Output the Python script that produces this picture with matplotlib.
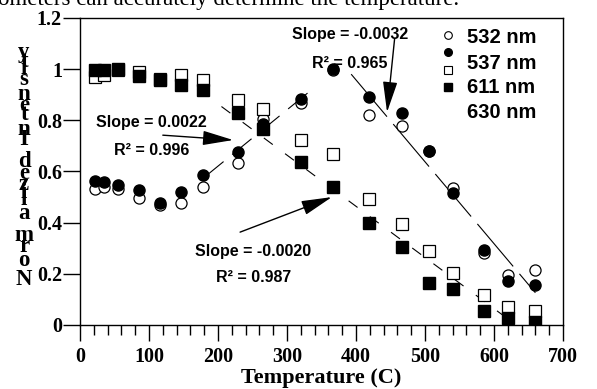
import numpy as np
import matplotlib.pyplot as plt
from matplotlib import font_manager, ft2font
from matplotlib.ticker import MultipleLocator, FuncFormatter

plt.rcParams['font.family'] = 'Liberation Serif'
plt.rcParams['font.weight'] = 'bold'
plt.rcParams['lines.scale_dashes'] = False

# temperatures (C) and normalized intensities
temps = [22, 35, 55, 86, 116, 146, 178, 229, 265, 321, 367, 419, 467, 506, 541, 586, 620, 659]
n532 = [0.530, 0.540, 0.530, 0.495, 0.470, 0.475, 0.540, 0.632, 0.805, 0.866,
        0.995, 0.820, 0.777, 0.680, 0.534, 0.280, 0.195, 0.215]
n537 = [0.564, 0.560, 0.549, 0.526, 0.475, 0.520, 0.586, 0.676, 0.785, 0.885,
        0.999, 0.892, 0.828, 0.681, 0.517, 0.293, 0.173, 0.156]
n611 = [0.970, 0.977, 0.995, 0.990, 0.963, 0.977, 0.957, 0.879, 0.846, 0.723,
        0.668, 0.491, 0.395, 0.290, 0.202, 0.117, 0.069, 0.056]
n630 = [0.995, 0.995, 1.000, 0.973, 0.957, 0.938, 0.918, 0.827, 0.768, 0.638,
        0.540, 0.400, 0.306, 0.163, 0.139, 0.056, 0.026, 0.013]

# linear fits: slope, intercept, temperature range
fit_slopes = [0.0022, -0.0032, -0.0020]
fit_icpts = [0.181, 2.238, 1.264]
fit_ranges = [(180, 332), (393, 660), (205, 615)]
fit_dashes = [(18, 8), (40, 7), (8, 11)]

legend_labels = ['532 nm', '537 nm', '611 nm', '630 nm']

fig = plt.figure(figsize=(5.97, 3.89), dpi=100)
ax = fig.add_axes([80 / 597, 64 / 389, 483 / 597, 307 / 389])

for (t0, t1), slope, icpt, dash in zip(fit_ranges, fit_slopes, fit_icpts, fit_dashes):
    t = np.array([t0, t1])
    ax.plot(t, icpt + slope * t, color='black', lw=0.8, dashes=dash, zorder=1)

ax.plot(temps, n532, 'o', ms=8, mfc='white', mec='black', mew=0.9, zorder=2)
ax.plot(temps, n537, 'o', ms=8, color='black', zorder=3)
ax.plot(temps, n611, 's', ms=8.5, mfc='white', mec='black', mew=0.9, zorder=4)
ax.plot(temps, n630, 's', ms=8.5, color='black', zorder=5)

ax.set_xlim(0, 700)
ax.set_ylim(0, 1.2)
ax.xaxis.set_major_locator(MultipleLocator(100))
ax.xaxis.set_minor_locator(MultipleLocator(20))
ax.yaxis.set_major_locator(MultipleLocator(0.2))
ax.yaxis.set_major_formatter(FuncFormatter(lambda v, p: f'{v:g}'))
ax.tick_params(axis='x', which='major', direction='out', length=11.5, width=1, pad=4, labelsize=14.5)
ax.tick_params(axis='x', which='minor', direction='out', length=7, width=1)
ax.tick_params(axis='y', which='major', direction='out', length=12, width=1, pad=1, labelsize=14.5)
for s in ax.spines.values():
    s.set_linewidth(1)
ax.set_xlabel('Temperature (C)', fontsize=16, fontweight='bold', labelpad=1)

# y label: upright letters stacked bottom to top at their advance positions
ylabel = 'Normalized Intensity'
fp = font_manager.FontProperties(family='Liberation Serif', weight='bold')
ft = ft2font.FT2Font(font_manager.findfont(fp))
ft.set_size(100, 72)
adv = np.array([ft.load_char(ord(c)).linearHoriAdvance / 65536 / 100 for c in ylabel])
pos = np.concatenate([[0], np.cumsum(adv)[:-1]])
for c, p in zip(ylabel, pos):
    if c == ' ':
        continue
    fig.text(24 / 597, (389 - 285 + p * 26.6) / 389, c, ha='center', va='baseline',
             fontsize=16.5, family='Liberation Serif', weight='bold')

# fit annotations
sans = dict(family='Liberation Sans', weight='bold', fontsize=11.5, ha='center', va='center')
arrow = dict(arrowstyle='-|>,head_length=1.9,head_width=0.45', color='black', lw=1,
             shrinkA=0, shrinkB=0, mutation_scale=10)
ax.text(104, 0.793, 'Slope = 0.0022', **sans)
ax.text(104, 0.684, 'R² = 0.996', **sans)
ax.annotate('', xy=(222, 0.723), xytext=(120, 0.742), arrowprops=arrow)
ax.text(391, 1.137, 'Slope = -0.0032', **sans)
ax.text(391, 1.023, 'R² = 0.965', **sans)
ax.annotate('', xy=(445, 0.832), xytext=(456, 1.12), arrowprops=arrow)
ax.text(251, 0.289, 'Slope = -0.0020', **sans)
ax.text(251, 0.184, 'R² = 0.987', **sans)
ax.annotate('', xy=(365, 0.50), xytext=(232, 0.363), arrowprops=arrow)

# legend (markers sit out of line with the labels, as in the original)
ax.plot(0.762, 0.944, 'o', ms=5.5, mfc='white', mec='black', mew=0.8, transform=ax.transAxes, clip_on=False)
ax.plot(0.762, 0.888, 'o', ms=5.5, color='black', transform=ax.transAxes, clip_on=False)
ax.plot(0.762, 0.830, 's', ms=6, mfc='white', mec='black', mew=0.8, transform=ax.transAxes, clip_on=False)
ax.plot(0.762, 0.775, 's', ms=6, color='black', transform=ax.transAxes, clip_on=False)
for lbl, y in zip(legend_labels, [0.9375, 0.8525, 0.775, 0.693]):
    ax.text(0.801, y, lbl, transform=ax.transAxes, family='Liberation Sans', weight='bold',
            fontsize=14.5, ha='left', va='center')

# page text cut off at the top
fig.text(-2 / 597, 1 - 5 / 389, 'ometers can accurately determine the temperature.',
         family='Liberation Serif', weight='normal', fontsize=16.5, ha='left', va='baseline')

fig.savefig('out.png', dpi=100)
